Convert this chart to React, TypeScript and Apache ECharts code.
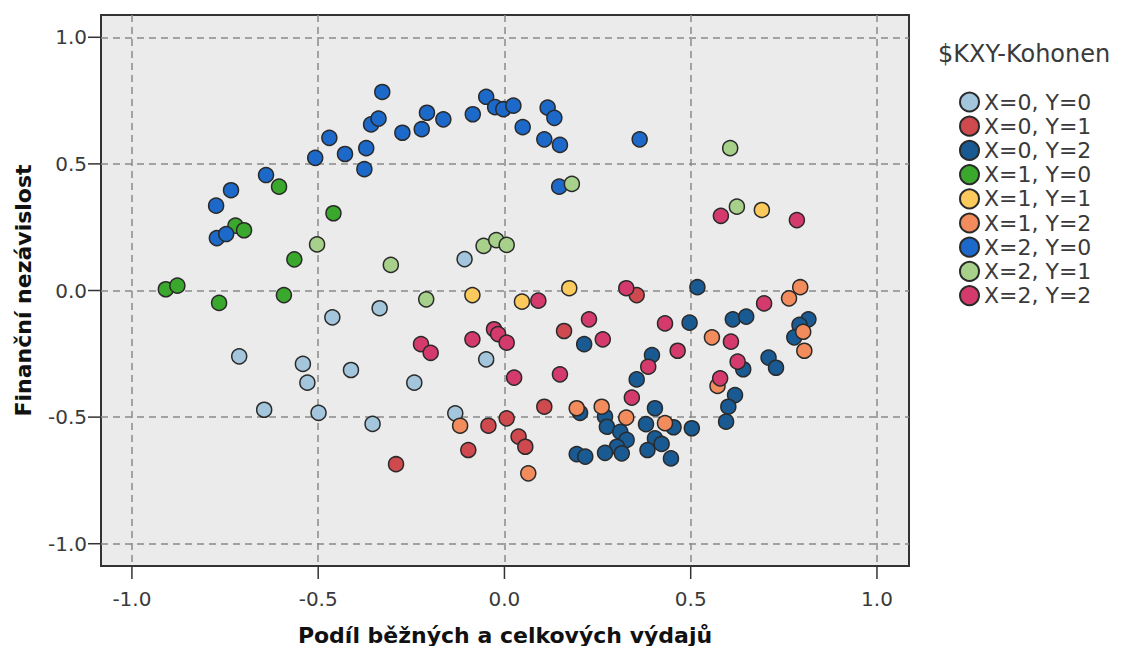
import React, { useEffect, useRef } from "react";
import * as echarts from "echarts";

const seriesNames = [
  "X=0, Y=0",
  "X=0, Y=1",
  "X=0, Y=2",
  "X=1, Y=0",
  "X=1, Y=1",
  "X=1, Y=2",
  "X=2, Y=0",
  "X=2, Y=1",
  "X=2, Y=2",
];

const seriesColors = [
  "#a3c6dc",
  "#cf4a4f",
  "#1a5a92",
  "#3aa82c",
  "#fcc95c",
  "#f28c5c",
  "#1c69c9",
  "#a7d18b",
  "#d43b6c",
];

const tickValues = [-1.0, -0.5, 0.0, 0.5, 1.0];

const x0y0: number[][] = [
  [-0.107, 0.124], [-0.462, -0.106], [-0.335, -0.07], [-0.712, -0.26], [-0.541, -0.29],
  [-0.529, -0.364], [-0.412, -0.314], [-0.645, -0.471], [-0.499, -0.483], [-0.354, -0.527],
  [-0.049, -0.272], [-0.242, -0.364], [-0.132, -0.485],
];

const x0y1: number[][] = [
  [0.355, -0.018], [0.16, -0.16], [0.107, -0.459], [-0.043, -0.534], [0.006, -0.505],
  [0.038, -0.577], [0.056, -0.617], [-0.097, -0.63], [-0.291, -0.686],
];

const x0y2: number[][] = [
  [0.518, 0.013], [0.214, -0.212], [0.355, -0.351], [0.396, -0.255], [0.497, -0.127],
  [0.613, -0.114], [0.649, -0.103], [0.816, -0.114], [0.792, -0.136], [0.778, -0.185],
  [0.641, -0.311], [0.709, -0.265], [0.729, -0.305], [0.619, -0.413], [0.601, -0.459],
  [0.595, -0.518], [0.404, -0.465], [0.38, -0.528], [0.454, -0.54], [0.503, -0.544],
  [0.404, -0.584], [0.384, -0.63], [0.422, -0.606], [0.447, -0.663], [0.203, -0.483],
  [0.27, -0.498], [0.275, -0.538], [0.311, -0.558], [0.328, -0.59], [0.302, -0.617],
  [0.194, -0.646], [0.217, -0.656], [0.27, -0.641], [0.315, -0.643],
];

const x1y0: number[][] = [
  [-0.605, 0.41], [-0.459, 0.305], [-0.722, 0.256], [-0.699, 0.238], [-0.564, 0.123],
  [-0.909, 0.005], [-0.878, 0.019], [-0.766, -0.049], [-0.592, -0.018],
];

const x1y1: number[][] = [
  [-0.086, -0.018], [0.047, -0.044], [0.174, 0.009], [0.691, 0.318],
];

const x1y2: number[][] = [
  [0.794, 0.013], [0.764, -0.031], [0.557, -0.185], [0.802, -0.163], [0.805, -0.238],
  [0.572, -0.377], [0.431, -0.524], [0.194, -0.465], [0.261, -0.459], [0.327, -0.502],
  [-0.119, -0.534], [0.064, -0.722],
];

const x2y0: number[][] = [
  [-0.328, 0.784], [-0.358, 0.656], [-0.338, 0.679], [-0.47, 0.603], [-0.428, 0.539],
  [-0.371, 0.562], [-0.508, 0.524], [-0.376, 0.479], [-0.64, 0.456], [-0.734, 0.396],
  [-0.774, 0.335], [-0.772, 0.207], [-0.747, 0.223], [-0.274, 0.623], [-0.208, 0.702],
  [-0.222, 0.637], [-0.164, 0.676], [-0.085, 0.696], [-0.049, 0.765], [-0.025, 0.724],
  [-0.003, 0.716], [0.024, 0.73], [0.049, 0.645], [0.116, 0.722], [0.134, 0.682],
  [0.107, 0.597], [0.149, 0.575], [0.363, 0.597], [0.147, 0.41],
];

const x2y1: number[][] = [
  [-0.503, 0.182], [-0.305, 0.101], [-0.056, 0.176], [-0.022, 0.199], [0.006, 0.18],
  [0.181, 0.421], [0.606, 0.562], [0.624, 0.331], [-0.21, -0.035],
];

const x2y2: number[][] = [
  [0.581, 0.295], [0.785, 0.278], [0.091, -0.04], [0.327, 0.009], [0.227, -0.114],
  [0.264, -0.193], [-0.028, -0.153], [-0.017, -0.172], [0.006, -0.206], [-0.086, -0.193],
  [-0.224, -0.212], [-0.198, -0.246], [0.026, -0.344], [0.149, -0.331], [0.342, -0.423],
  [0.386, -0.301], [0.697, -0.051], [0.431, -0.13], [0.608, -0.202], [0.465, -0.238],
  [0.626, -0.281], [0.579, -0.347],
];

const seriesData = [x0y0, x0y1, x0y2, x1y0, x1y1, x1y2, x2y0, x2y1, x2y2];

const xAxisTitle = "Podíl běžných a celkových výdajů";
const yAxisTitle = "Finanční nezávislost";
const legendTitle = "$KXY-Kohonen";

const FONT = "'DejaVu Sans', 'Liberation Sans', Arial, sans-serif";

const GRID_LEFT = 101;
const GRID_TOP = 15;
const GRID_W = 808;
const GRID_H = 551;
const TICK_LEN = 13;

export default function App() {
  const ref = useRef<HTMLDivElement>(null);

  useEffect(() => {
    document.body.style.margin = "0";
    if (!ref.current) return;
    const chart = echarts.init(ref.current, null, { renderer: "svg" });

    const fmt = (v: number) => v.toFixed(1);

    const axisCommon = {
      type: "value" as const,
      axisLine: { show: false, onZero: false },
      axisTick: {
        show: false,
        customValues: tickValues,
      },
      axisLabel: {
        customValues: tickValues,
        formatter: fmt,
        color: "#3a3a3a",
        fontSize: 20,
        fontFamily: FONT,
      },
      splitLine: {
        show: true,
        lineStyle: { color: "#8a8a8a", type: [7, 5], width: 1.5 },
      },
      nameLocation: "middle" as const,
      nameTextStyle: {
        fontWeight: "bold" as const,
        fontSize: 22,
        color: "#111",
        fontFamily: FONT,
      },
    };

    const titleGraphic = {
      id: "legendTitle",
      type: "text",
      left: 938,
      top: 42,
      style: {
        text: legendTitle,
        fontSize: 24,
        fill: "#3a3a3a",
        fontFamily: FONT,
      },
    };

    chart.setOption({
      animation: false,
      backgroundColor: "#ffffff",
      grid: {
        left: GRID_LEFT,
        top: GRID_TOP,
        width: GRID_W,
        height: GRID_H,
        show: true,
        backgroundColor: "#ebebeb",
        borderColor: "#333",
        borderWidth: 2,
        containLabel: false,
        outerBoundsMode: "none",
      },
      xAxis: {
        ...axisCommon,
        min: -1.083,
        max: 1.086,
        name: xAxisTitle,
        nameGap: 58,
        axisLabel: { ...axisCommon.axisLabel, margin: 23 },
      },
      yAxis: {
        ...axisCommon,
        min: -1.088,
        max: 1.088,
        name: yAxisTitle,
        nameGap: 67,
        axisLabel: { ...axisCommon.axisLabel, margin: 14 },
      },
      legend: {
        orient: "vertical",
        left: 954,
        top: 86,
        itemWidth: 19,
        itemHeight: 19,
        itemGap: 2.2,
        icon: "circle",
        data: seriesNames,
        textStyle: {
          fontSize: 22,
          lineHeight: 20,
          color: "#3a3a3a",
          fontFamily: FONT,
        },
      },
      graphic: [titleGraphic],
      series: seriesNames.map((name, i) => ({
        name,
        type: "scatter",
        data: seriesData[i],
        symbol: "circle",
        symbolSize: 15,
        itemStyle: {
          color: seriesColors[i],
          borderColor: "#2a2a2a",
          borderWidth: 1.5,
          opacity: 1,
        },
      })),
    });

    // Tick marks placed through the axes' own scales
    const tickEls: any[] = [];
    const bottom = GRID_TOP + GRID_H;
    tickValues.forEach((v, i) => {
      const px = chart.convertToPixel({ xAxisIndex: 0 }, v) as number;
      const py = chart.convertToPixel({ yAxisIndex: 0 }, v) as number;
      tickEls.push({
        id: "xt" + i,
        type: "line",
        shape: { x1: px, y1: bottom, x2: px, y2: bottom + TICK_LEN },
        style: { stroke: "#333", lineWidth: 1.5 },
        z: 10,
      });
      tickEls.push({
        id: "yt" + i,
        type: "line",
        shape: { x1: GRID_LEFT - TICK_LEN, y1: py, x2: GRID_LEFT, y2: py },
        style: { stroke: "#333", lineWidth: 1.5 },
        z: 10,
      });
    });
    chart.setOption({ graphic: [titleGraphic, ...tickEls] });

    return () => chart.dispose();
  }, []);

  return <div ref={ref} style={{ width: 1129, height: 646 }} />;
}
